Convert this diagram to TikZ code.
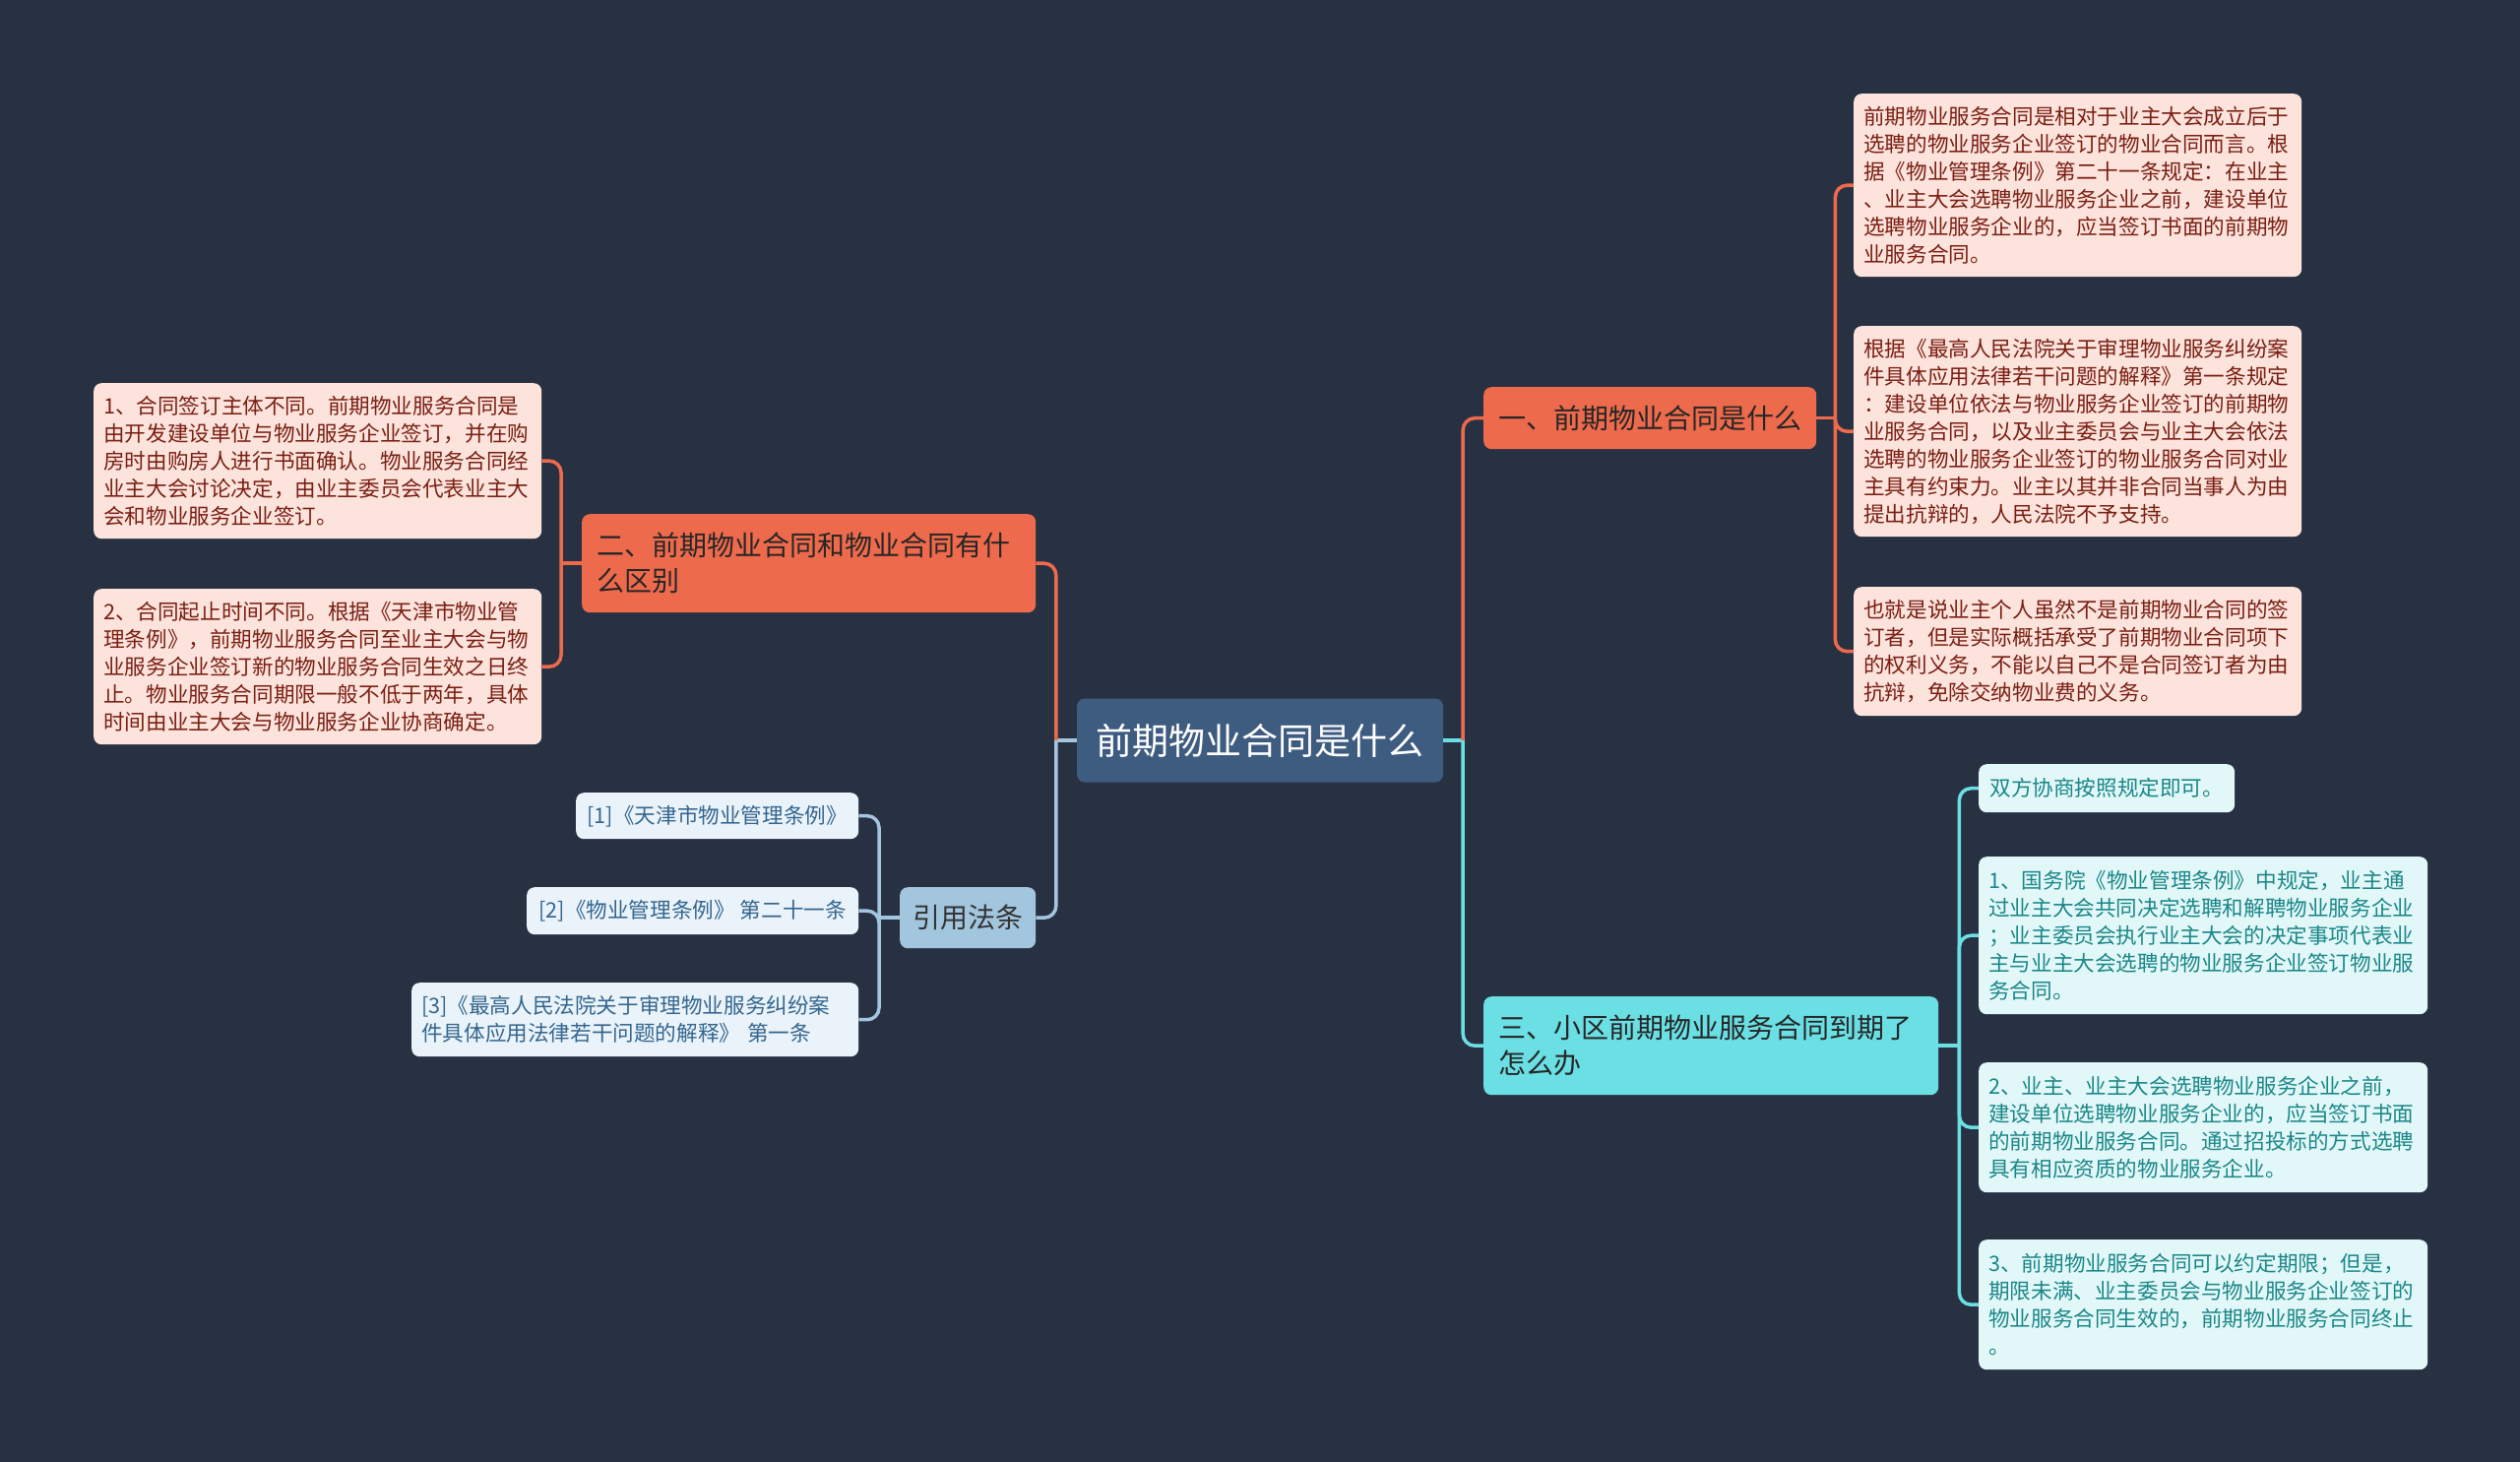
\documentclass[tikz,border=0pt]{standalone}
\usepackage{fontspec}
\setmainfont{Noto Sans CJK SC}
\definecolor{bg}{HTML}{283142}
\definecolor{core}{HTML}{3E5B80}
\definecolor{coral}{HTML}{EE6A4C}
\definecolor{coralleaf}{HTML}{FCE4DD}
\definecolor{coraltext}{HTML}{7A1E12}
\definecolor{aqua}{HTML}{6ADFE4}
\definecolor{aqualeaf}{HTML}{E2F8F8}
\definecolor{aquatext}{HTML}{1B8688}
\definecolor{steel}{HTML}{A3C6DF}
\definecolor{steelleaf}{HTML}{EAF3F9}
\definecolor{steeltext}{HTML}{34668F}

\tikzset{
  box/.style={rounded corners=8pt,anchor=north west,inner ysep=0pt,align=left},
  topic/.style={box,inner xsep=15pt,fill=coral,text=black!85,font=\fontsize{28pt}{36pt}\selectfont},
  leaf/.style={box,inner xsep=10pt,font=\fontsize{21.6pt}{28pt}\selectfont},
  rleaf/.style={leaf,fill=coralleaf,text=coraltext,text width=435pt},
  tleaf/.style={leaf,fill=aqualeaf,text=aquatext,text width=436pt},
  cleaf/.style={leaf,fill=steelleaf,text=steeltext},
  link/.style={line width=3.5pt,rounded corners=12pt},
  coralline/.style={link,draw=coral},
  aqualine/.style={link,draw=aqua},
  steelline/.style={link,draw=steel}
}

\begin{document}
\begin{tikzpicture}[x=1pt,y=-1pt]
\fill[bg] (0,0) rectangle (2560,1485);
\useasboundingbox (0,0) rectangle (2560,1485);

% centre and main topics
\node[rounded corners=8pt,fill=core,text=white,minimum width=372pt,minimum height=85pt,font=\fontsize{37pt}{44pt}\selectfont] (root) at (1280,752) {前期物业合同是什么};
\node[topic,minimum width=335pt,minimum height=63pt] (one) at (1507,393) {一、前期物业合同是什么};
\node[topic,text width=431pt,minimum height=100pt] (two) at (591,522) {二、前期物业合同和物业合同有什\\么区别};
\node[topic,inner xsep=12pt,fill=steel,text=black!80,minimum width=138pt,minimum height=62pt] (cite) at (914,901) {引用法条};
\node[topic,fill=aqua,text=black!85,text width=432pt,minimum height=100pt] (three) at (1507,1012) {三、小区前期物业服务合同到期了\\怎么办};

% leaves of one
\node[rleaf,minimum height=186pt] (r1) at (1883,95) {前期物业服务合同是相对于业主大会成立后于\\选聘的物业服务企业签订的物业合同而言。根\\据《物业管理条例》第二十一条规定：在业主\\、业主大会选聘物业服务企业之前，建设单位\\选聘物业服务企业的，应当签订书面的前期物\\业服务合同。};
\node[rleaf,minimum height=214pt] (r2) at (1883,331) {根据《最高人民法院关于审理物业服务纠纷案\\件具体应用法律若干问题的解释》第一条规定\\：建设单位依法与物业服务企业签订的前期物\\业服务合同，以及业主委员会与业主大会依法\\选聘的物业服务企业签订的物业服务合同对业\\主具有约束力。业主以其并非合同当事人为由\\提出抗辩的，人民法院不予支持。};
\node[rleaf,minimum height=131pt] (r3) at (1883,596) {也就是说业主个人虽然不是前期物业合同的签\\订者，但是实际概括承受了前期物业合同项下\\的权利义务，不能以自己不是合同签订者为由\\抗辩，免除交纳物业费的义务。};

% leaves of two
\node[rleaf,minimum height=158pt] (l1) at (95,389) {1、合同签订主体不同。前期物业服务合同是\\由开发建设单位与物业服务企业签订，并在购\\房时由购房人进行书面确认。物业服务合同经\\业主大会讨论决定，由业主委员会代表业主大\\会和物业服务企业签订。};
\node[rleaf,minimum height=158pt] (l2) at (95,598) {2、合同起止时间不同。根据《天津市物业管\\理条例》，前期物业服务合同至业主大会与物\\业服务企业签订新的物业服务合同生效之日终\\止。物业服务合同期限一般不低于两年，具体\\时间由业主大会与物业服务企业协商确定。};

% leaves of cite
\node[cleaf,minimum width=287pt,minimum height=47pt] (c1) at (585,805) {[1]《天津市物业管理条例》};
\node[cleaf,minimum width=337pt,minimum height=48pt] (c2) at (535,901) {[2]《物业管理条例》 第二十一条};
\node[cleaf,text width=434pt,minimum height=75pt] (c3) at (418,998) {[3]《最高人民法院关于审理物业服务纠纷案\\件具体应用法律若干问题的解释》 第一条};

% leaves of three
\node[leaf,fill=aqualeaf,text=aquatext,minimum width=260pt,minimum height=49pt] (t0) at (2010,776) {双方协商按照规定即可。};
\node[tleaf,minimum height=160pt] (t1) at (2010,870) {1、国务院《物业管理条例》中规定，业主通\\过业主大会共同决定选聘和解聘物业服务企业\\；业主委员会执行业主大会的决定事项代表业\\主与业主大会选聘的物业服务企业签订物业服\\务合同。};
\node[tleaf,minimum height=132pt] (t2) at (2010,1079) {2、业主、业主大会选聘物业服务企业之前，\\建设单位选聘物业服务企业的，应当签订书面\\的前期物业服务合同。通过招投标的方式选聘\\具有相应资质的物业服务企业。};
\node[tleaf,minimum height=132pt] (t3) at (2010,1259) {3、前期物业服务合同可以约定期限；但是，\\期限未满、业主委员会与物业服务企业签订的\\物业服务合同生效的，前期物业服务合同终止\\。};

% connectors
\coordinate (rootR) at ([xshift=20pt]root.east);
\coordinate (rootL) at ([xshift=-21pt]root.west);
\draw[aqualine] (root.east) -- (rootR);
\draw[coralline] (rootR) |- (one.west);
\draw[aqualine] (rootR) |- (three.west);
\draw[steelline] (root.west) -- (rootL);
\draw[coralline] (rootL) |- (two.east);
\draw[steelline] (rootL) |- (cite.east);

\coordinate (oneR) at ([xshift=19pt]one.east);
\draw[coralline] (one.east) -- (oneR);
\foreach \leafname in {r1,r2,r3}
  \draw[coralline] (oneR) |- (\leafname.west);

\coordinate (twoL) at ([xshift=-21pt]two.west);
\draw[coralline] (two.west) -- (twoL);
\foreach \leafname in {l1,l2}
  \draw[coralline] (twoL) |- (\leafname.east);

\coordinate (citeL) at ([xshift=-21pt]cite.west);
\draw[steelline] (cite.west) -- (citeL);
\foreach \leafname in {c1,c2,c3}
  \draw[steelline] (citeL) |- (\leafname.east);

\coordinate (threeR) at ([xshift=21pt]three.east);
\draw[aqualine] (three.east) -- (threeR);
\foreach \leafname in {t0,t1,t2,t3}
  \draw[aqualine] (threeR) |- (\leafname.west);
\end{tikzpicture}
\end{document}
